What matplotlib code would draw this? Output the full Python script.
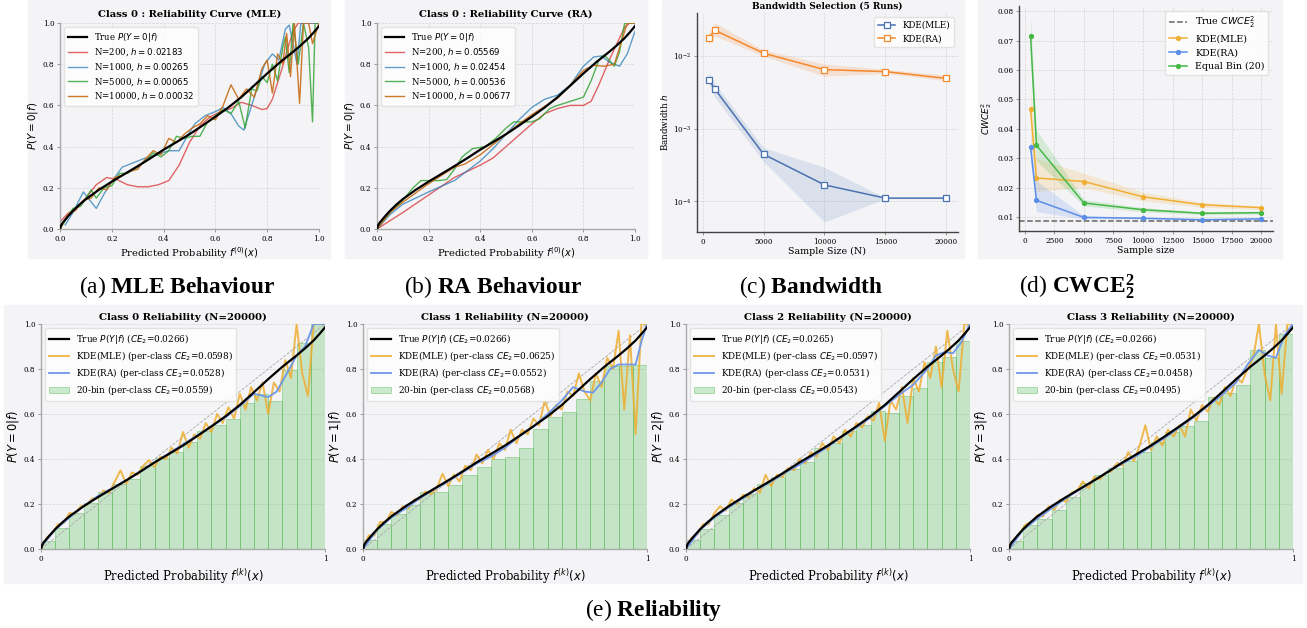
import numpy as np
import matplotlib
matplotlib.use("Agg")
import matplotlib.pyplot as plt
from matplotlib.patches import Rectangle

W, H = 1307, 628
BG = '#f4f4f7'

# ---------------- data ----------------
# true calibration curve (shared by the reliability panels)
true_x = [0, 0.005, 0.01, 0.02, 0.03, 0.05, 0.075, 0.1, 0.15, 0.2, 0.25, 0.3, 0.35, 0.4, 0.45,
          0.5, 0.55, 0.6, 0.65, 0.7, 0.75, 0.8, 0.85, 0.9, 0.93, 0.96, 0.98, 1.0]
true_y = [0, 0.02, 0.03, 0.045, 0.06, 0.088, 0.118, 0.145, 0.19, 0.23, 0.2675, 0.305, 0.344, 0.385, 0.422,
          0.46, 0.502, 0.545, 0.59, 0.64, 0.697, 0.755, 0.81, 0.86, 0.892, 0.927, 0.955, 0.985]

# (a) MLE bandwidth curves
a_labels = ['N=200, $h=0.02183$', 'N=1000, $h=0.00265$', 'N=5000, $h=0.00065$', 'N=10000, $h=0.00032$']
a200_x = [0, 0.03, 0.06, 0.1, 0.14, 0.18, 0.22, 0.26, 0.3, 0.34, 0.38, 0.42, 0.46, 0.5, 0.54, 0.58, 0.62,
          0.66, 0.7, 0.74, 0.78, 0.8, 0.82, 0.84, 0.86, 0.88, 0.9, 0.92, 1.0]
a200_y = [0.035, 0.075, 0.1, 0.15, 0.215, 0.25, 0.24, 0.215, 0.205, 0.205, 0.215, 0.235, 0.31, 0.42, 0.5, 0.545,
          0.57, 0.585, 0.615, 0.6, 0.58, 0.585, 0.63, 0.71, 0.79, 0.88, 0.96, 1.0, 1.0]
a1000_x = [0.02, 0.05, 0.09, 0.14, 0.17, 0.2, 0.24, 0.28, 0.32, 0.37, 0.42, 0.46, 0.5, 0.52, 0.56, 0.6, 0.63,
           0.66, 0.69, 0.71, 0.74, 0.77, 0.79, 0.82, 0.845, 0.87, 0.885, 0.9, 0.915, 0.93, 0.95, 1.0]
a1000_y = [0.02, 0.08, 0.18, 0.10, 0.17, 0.23, 0.30, 0.32, 0.34, 0.36, 0.38, 0.38, 0.47, 0.51, 0.55, 0.57, 0.59,
           0.56, 0.50, 0.48, 0.60, 0.72, 0.80, 0.85, 0.82, 0.97, 0.99, 0.90, 0.80, 1.0, 1.0, 1.0]
a5000_x = [0.0, 0.03, 0.05, 0.08, 0.1, 0.12, 0.14, 0.17, 0.2, 0.23, 0.26, 0.3, 0.33, 0.36, 0.39, 0.42, 0.45,
           0.48, 0.51, 0.54, 0.57, 0.6, 0.63, 0.66, 0.69, 0.715, 0.74, 0.76, 0.78, 0.8, 0.82, 0.84, 0.86,
           0.87, 0.885, 0.9, 0.92, 0.94, 0.96, 0.975, 0.985, 1.0]
a5000_y = [0.0, 0.06, 0.10, 0.11, 0.15, 0.19, 0.15, 0.20, 0.21, 0.27, 0.27, 0.30, 0.33, 0.37, 0.35, 0.38, 0.45,
           0.44, 0.45, 0.45, 0.52, 0.55, 0.58, 0.56, 0.62, 0.49, 0.68, 0.67, 0.74, 0.71, 0.80, 0.72, 0.88,
           0.93, 0.76, 1.0, 0.80, 1.0, 0.88, 0.52, 1.0, 1.0]
a10000_x = [0, 0.03, 0.06, 0.09, 0.12, 0.15, 0.18, 0.21, 0.24, 0.27, 0.3, 0.33, 0.36, 0.39, 0.42, 0.45, 0.48,
            0.51, 0.54, 0.57, 0.6, 0.63, 0.66, 0.69, 0.72, 0.75, 0.78, 0.8, 0.82, 0.84, 0.86, 0.875, 0.89,
            0.905, 0.925, 0.94, 0.96, 0.975, 1.0]
a10000_y = [0.0, 0.07, 0.09, 0.14, 0.15, 0.20, 0.19, 0.25, 0.26, 0.28, 0.29, 0.34, 0.38, 0.36, 0.44, 0.42, 0.46,
            0.49, 0.51, 0.55, 0.53, 0.60, 0.70, 0.63, 0.68, 0.64, 0.78, 0.82, 0.66, 0.85, 0.80, 0.95, 0.74,
            1.0, 0.61, 1.0, 1.0, 0.90, 1.0]

# (b) RA bandwidth curves
b_labels = ['N=200, $h=0.05569$', 'N=1000, $h=0.02454$', 'N=5000, $h=0.00536$', 'N=10000, $h=0.00677$']
b200_x = [0, 0.1, 0.2, 0.3, 0.4, 0.45, 0.5, 0.55, 0.6, 0.65, 0.7, 0.75, 0.8, 0.83, 0.86, 0.9, 0.93, 0.96, 0.98, 1.0]
b200_y = [0.0, 0.08, 0.165, 0.25, 0.31, 0.345, 0.40, 0.455, 0.51, 0.56, 0.585, 0.60, 0.60, 0.62, 0.70, 0.82,
          0.90, 0.98, 1.0, 1.0]
b1000_x = [0, 0.05, 0.1, 0.2, 0.3, 0.4, 0.45, 0.5, 0.55, 0.6, 0.65, 0.7, 0.75, 0.8, 0.84, 0.87, 0.9, 0.94, 0.97, 1.0]
b1000_y = [0, 0.07, 0.12, 0.18, 0.235, 0.33, 0.39, 0.46, 0.53, 0.59, 0.63, 0.65, 0.70, 0.79, 0.835, 0.84, 0.81,
           0.79, 0.85, 0.96]
b5000_x = [0, 0.05, 0.1, 0.14, 0.17, 0.2, 0.24, 0.27, 0.3, 0.33, 0.37, 0.42, 0.46, 0.5, 0.53, 0.57, 0.6, 0.63,
           0.67, 0.7, 0.75, 0.8, 0.83, 0.86, 0.88, 0.9, 0.92, 0.94, 0.96, 1.0]
b5000_y = [0, 0.08, 0.14, 0.20, 0.235, 0.235, 0.235, 0.24, 0.29, 0.35, 0.39, 0.40, 0.44, 0.49, 0.52, 0.52, 0.52,
           0.535, 0.585, 0.60, 0.62, 0.64, 0.72, 0.82, 0.845, 0.82, 0.79, 0.86, 1.0, 1.0]
b10000_x = [0, 0.05, 0.1, 0.2, 0.3, 0.34, 0.4, 0.45, 0.5, 0.55, 0.6, 0.65, 0.7, 0.75, 0.8, 0.84, 0.88, 0.92,
            0.95, 0.97, 1.0]
b10000_y = [0, 0.08, 0.13, 0.22, 0.30, 0.315, 0.36, 0.41, 0.46, 0.51, 0.555, 0.595, 0.635, 0.70, 0.77, 0.795,
            0.79, 0.80, 0.92, 1.0, 1.0]

# (c) bandwidth vs sample size
sizes = [500, 1000, 5000, 10000, 15000, 20000]
h_mle = [0.00475, 0.00352, 0.000446, 0.000169, 0.000111, 0.000111]
h_mle_lo = [0.0042, 0.0027, 0.000353, 0.000052, 0.000109, 0.000109]
h_mle_hi = [0.0059, 0.0042, 0.00055, 0.000295, 0.000113, 0.000113]
h_ra = [0.0180, 0.0227, 0.0110, 0.00653, 0.00614, 0.00495]
h_ra_lo = [0.0145, 0.0189, 0.0100, 0.0053, 0.0058, 0.0046]
h_ra_hi = [0.0215, 0.0287, 0.0122, 0.0078, 0.0066, 0.0055]

# (d) CWCE vs sample size
cwce_true = 0.00875
cw_mle = [0.0467, 0.0233, 0.0221, 0.0169, 0.0142, 0.0132]
cw_mle_lo = [0.039, 0.0187, 0.0200, 0.0155, 0.0133, 0.0126]
cw_mle_hi = [0.0544, 0.0300, 0.0249, 0.0185, 0.0150, 0.0138]
cw_ra = [0.0338, 0.0157, 0.0099, 0.0096, 0.0091, 0.0094]
cw_ra_lo = [0.029, 0.0118, 0.0094, 0.0093, 0.0088, 0.0091]
cw_ra_hi = [0.0388, 0.0223, 0.0105, 0.0099, 0.0094, 0.0097]
cw_bin = [0.0716, 0.0344, 0.0148, 0.0125, 0.0113, 0.0115]
cw_bin_lo = [0.065, 0.0291, 0.0138, 0.0118, 0.0108, 0.0110]
cw_bin_hi = [0.0783, 0.0396, 0.0160, 0.0132, 0.0118, 0.0120]

# (e) per-class reliability, N=20000
classes = [0, 1, 2, 3]
ce_true = ['0.0266', '0.0266', '0.0265', '0.0266']
ce_mle = ['0.0598', '0.0625', '0.0597', '0.0531']
ce_ra = ['0.0528', '0.0552', '0.0531', '0.0458']
ce_bin = ['0.0559', '0.0568', '0.0543', '0.0495']

bins_c0 = [0.035, 0.095, 0.16, 0.205, 0.255, 0.29, 0.31, 0.37, 0.405, 0.43, 0.475, 0.525, 0.55, 0.58,
           0.65, 0.69, 0.66, 0.795, 0.915, 1.0]
bins_c1 = [0.04, 0.11, 0.155, 0.195, 0.255, 0.255, 0.285, 0.33, 0.365, 0.4, 0.41, 0.45, 0.535, 0.585,
           0.61, 0.665, 0.745, 0.815, 0.815, 0.82]
bins_c2 = [0.04, 0.09, 0.15, 0.205, 0.245, 0.29, 0.32, 0.355, 0.385, 0.45, 0.47, 0.525, 0.55, 0.615,
           0.605, 0.68, 0.715, 0.83, 0.855, 0.925]
bins_c3 = [0.035, 0.105, 0.135, 0.175, 0.23, 0.295, 0.33, 0.36, 0.39, 0.43, 0.475, 0.52, 0.545, 0.57,
           0.675, 0.695, 0.73, 0.885, 0.85, 0.955]

mle_x = np.linspace(0, 1, 51)
mle_c0 = [0.0, 0.05, 0.07, 0.11, 0.115, 0.16, 0.155, 0.19, 0.195, 0.225, 0.225, 0.26, 0.25, 0.30, 0.35, 0.29,
          0.34, 0.33, 0.37, 0.395, 0.365, 0.41, 0.40, 0.45, 0.425, 0.52, 0.45, 0.51, 0.49, 0.56, 0.52, 0.60,
          0.56, 0.63, 0.58, 0.69, 0.62, 0.72, 0.66, 0.74, 0.60, 0.74, 0.70, 0.84, 0.76, 1.0, 0.78, 0.68,
          1.0, 1.0, 1.0]
mle_c1 = [0.0, 0.06, 0.06, 0.12, 0.12, 0.165, 0.15, 0.19, 0.18, 0.22, 0.22, 0.255, 0.245, 0.27, 0.335, 0.28,
          0.33, 0.30, 0.37, 0.35, 0.42, 0.38, 0.44, 0.40, 0.47, 0.44, 0.53, 0.47, 0.53, 0.51, 0.58, 0.55,
          0.66, 0.59, 0.64, 0.62, 0.70, 0.68, 0.78, 0.70, 0.66, 0.78, 0.72, 0.85, 0.80, 0.97, 0.62, 0.95,
          0.51, 1.0, 1.0]
mle_c2 = [0.0, 0.05, 0.065, 0.11, 0.11, 0.16, 0.19, 0.17, 0.22, 0.20, 0.24, 0.23, 0.27, 0.25, 0.33, 0.28,
          0.33, 0.32, 0.36, 0.35, 0.40, 0.38, 0.43, 0.41, 0.47, 0.44, 0.50, 0.47, 0.53, 0.50, 0.56, 0.54,
          0.59, 0.57, 0.65, 0.48, 0.66, 0.62, 0.72, 0.56, 0.76, 0.70, 0.83, 0.76, 0.90, 0.72, 0.97, 0.80,
          0.70, 1.0, 1.0]
mle_c3 = [0.0, 0.04, 0.075, 0.11, 0.12, 0.15, 0.145, 0.19, 0.175, 0.22, 0.21, 0.25, 0.26, 0.30, 0.27, 0.32,
          0.31, 0.34, 0.345, 0.38, 0.37, 0.43, 0.39, 0.46, 0.55, 0.44, 0.50, 0.46, 0.53, 0.50, 0.55, 0.50,
          0.62, 0.57, 0.64, 0.61, 0.67, 0.64, 0.72, 0.68, 0.76, 0.74, 0.80, 0.85, 1.0, 0.78, 0.66, 1.0,
          0.69, 1.0, 1.0]

ra0_x = [0, 0.05, 0.1, 0.15, 0.2, 0.25, 0.3, 0.35, 0.4, 0.45, 0.5, 0.55, 0.6, 0.65, 0.7, 0.75, 0.8, 0.83,
         0.87, 0.9, 0.93, 0.96, 1.0]
ra0_y = [0.01, 0.085, 0.14, 0.19, 0.235, 0.27, 0.305, 0.345, 0.385, 0.425, 0.465, 0.505, 0.545, 0.585, 0.635,
         0.69, 0.675, 0.70, 0.79, 0.86, 0.90, 1.0, 1.0]
ra1_x = [0, 0.05, 0.1, 0.15, 0.2, 0.25, 0.3, 0.35, 0.4, 0.45, 0.5, 0.55, 0.6, 0.65, 0.7, 0.74, 0.78, 0.81,
         0.84, 0.87, 0.9, 0.93, 0.96, 0.98, 1.0]
ra1_y = [0.0, 0.085, 0.14, 0.18, 0.225, 0.265, 0.3, 0.34, 0.38, 0.41, 0.45, 0.50, 0.545, 0.60, 0.66, 0.72,
         0.70, 0.695, 0.74, 0.80, 0.82, 0.82, 0.82, 0.92, 1.0]
ra2_x = [0, 0.05, 0.1, 0.15, 0.2, 0.25, 0.3, 0.35, 0.4, 0.45, 0.5, 0.55, 0.6, 0.65, 0.7, 0.75, 0.8, 0.85,
         0.88, 0.91, 0.94, 0.97, 1.0]
ra2_y = [0.0, 0.085, 0.14, 0.185, 0.225, 0.265, 0.3, 0.34, 0.375, 0.415, 0.455, 0.5, 0.54, 0.585, 0.635,
         0.685, 0.73, 0.80, 0.86, 0.875, 0.87, 0.92, 1.0]
ra3_x = [0, 0.05, 0.1, 0.15, 0.2, 0.25, 0.3, 0.35, 0.4, 0.45, 0.5, 0.55, 0.6, 0.65, 0.7, 0.75, 0.8, 0.84,
         0.88, 0.91, 0.94, 0.97, 1.0]
ra3_y = [0.0, 0.085, 0.135, 0.18, 0.225, 0.265, 0.305, 0.345, 0.38, 0.415, 0.455, 0.495, 0.54, 0.585, 0.635,
         0.685, 0.74, 0.82, 0.885, 0.86, 0.85, 0.95, 1.0]

# ---------------- style ----------------
plt.rcParams['font.family'] = 'serif'
plt.rcParams['font.serif'] = ['DejaVu Serif']
plt.rcParams['mathtext.fontset'] = 'dejavusans'
plt.rcParams['mathtext.rm'] = 'Liberation Serif'
plt.rcParams['mathtext.it'] = 'Liberation Serif:italic'
plt.rcParams['mathtext.bf'] = 'Liberation Serif:bold'

fig = plt.figure(figsize=(W / 100, H / 100), dpi=100)


def px_box(x0, y0, x1, y1):
    return [x0 / W, 1 - y1 / H, (x1 - x0) / W, (y1 - y0) / H]


def add_bg(x0, y0, x1, y1):
    fig.patches.append(Rectangle((x0 / W, 1 - y1 / H), (x1 - x0) / W, (y1 - y0) / H,
                                 transform=fig.transFigure, color=BG, zorder=-10))


def base_style(ax, spine_col='#aaaaaa'):
    ax.set_facecolor(BG)
    ax.grid(True, ls='--', lw=0.5, color='#c8c8c8', alpha=0.7)
    ax.set_axisbelow(True)
    for s in ['top', 'right']:
        ax.spines[s].set_visible(False)
    for s in ['left', 'bottom']:
        ax.spines[s].set_color(spine_col)
        ax.spines[s].set_linewidth(1.0)
    ax.tick_params(labelsize=5.2, length=2, width=0.6, color='#888888', pad=2)


for bx in [(28, 0, 330, 258), (345, 0, 647, 258), (662, 0, 964, 258), (978, 0, 1282, 258),
           (4, 305, 330, 583), (331, 305, 654, 583), (655, 305, 978, 583), (979, 305, 1302, 583)]:
    add_bg(*bx)

cols_ab = [(0.84, 0.15, 0.16, 0.7), (0.12, 0.47, 0.71, 0.7), (0.17, 0.63, 0.17, 0.8), (0.78, 0.42, 0.08, 0.9)]

# (a) and (b)
for box, title, curves, labels in [
        ((60, 23, 319, 229), 'Class 0 : Reliability Curve (MLE)',
         [(a200_x, a200_y), (a1000_x, a1000_y), (a5000_x, a5000_y), (a10000_x, a10000_y)], a_labels),
        ((377, 23, 635, 229), 'Class 0 : Reliability Curve (RA)',
         [(b200_x, b200_y), (b1000_x, b1000_y), (b5000_x, b5000_y), (b10000_x, b10000_y)], b_labels)]:
    ax = fig.add_axes(px_box(*box))
    base_style(ax)
    ax.plot(true_x, true_y, color='black', lw=1.6, label='True $P(Y=0|f)$', zorder=6)
    for (cx, cy), lab, c in zip(curves, labels, cols_ab):
        ax.plot(cx, cy, color=c, lw=1.0, label=lab)
    ax.set_xlim(0, 1)
    ax.set_ylim(0, 1)
    ax.set_title(title, fontsize=7.2, fontweight='bold', pad=4)
    ax.set_xlabel('Predicted Probability $f^{(0)}(x)$', fontsize=7.1, labelpad=2)
    ax.set_ylabel('$P(Y=0|f)$', fontsize=7.5, labelpad=2)
    ax.legend(loc='upper left', fontsize=6.2, framealpha=0.8, edgecolor='#dddddd',
              handlelength=2.2, borderpad=0.4, labelspacing=0.35)

# (c)
ax = fig.add_axes(px_box(697, 13, 958, 232))
base_style(ax, '#444444')
c_mle, c_ra = '#4a72b0', '#f5882a'
ax.fill_between(sizes, h_mle_lo, h_mle_hi, color=c_mle, alpha=0.15, lw=0)
ax.fill_between(sizes, h_ra_lo, h_ra_hi, color=c_ra, alpha=0.18, lw=0)
ax.plot(sizes, h_mle, color=c_mle, marker='s', mfc='white', ms=4, mew=0.9, lw=1.1, label='KDE(MLE)')
ax.plot(sizes, h_ra, color=c_ra, marker='s', mfc='white', ms=4, mew=0.9, lw=1.1, label='KDE(RA)')
ax.set_yscale('log')
ax.minorticks_off()
ax.set_xticks([0, 5000, 10000, 15000, 20000])
ax.set_title('Bandwidth Selection (5 Runs)', fontsize=6.5, fontweight='bold', pad=3)
ax.set_xlabel('Sample Size (N)', fontsize=6.8, labelpad=1)
ax.set_ylabel('Bandwidth $h$', fontsize=6.3, labelpad=2)
ax.legend(loc='upper right', fontsize=6.3, framealpha=0.8, edgecolor='#dddddd', handlelength=2)

# (d)
ax = fig.add_axes(px_box(1019, 6, 1273, 231))
base_style(ax, '#444444')
c1, c2, c3 = '#f0ae32', '#5b8ee6', '#45b845'
ax.axhline(cwce_true, color='#666666', ls='--', lw=1.1, label='True $CWCE_2^2$')
ax.fill_between(sizes, cw_mle_lo, cw_mle_hi, color=c1, alpha=0.18, lw=0)
ax.fill_between(sizes, cw_ra_lo, cw_ra_hi, color=c2, alpha=0.18, lw=0)
ax.fill_between(sizes, cw_bin_lo, cw_bin_hi, color=c3, alpha=0.18, lw=0)
ax.plot(sizes, cw_mle, color=c1, marker='o', ms=2.8, lw=1.1, label='KDE(MLE)')
ax.plot(sizes, cw_ra, color=c2, marker='o', ms=2.8, lw=1.1, label='KDE(RA)')
ax.plot(sizes, cw_bin, color=c3, marker='o', ms=2.8, lw=1.1, label='Equal Bin (20)')
ax.set_xticks(np.arange(0, 20001, 2500))
ax.set_xlabel('Sample size', fontsize=6.8, labelpad=1)
ax.set_ylabel('$CWCE_2^2$', fontsize=6.5, labelpad=2)
ax.legend(loc='upper right', fontsize=6.8, framealpha=0.8, edgecolor='#dddddd', handlelength=2)

# (e)
bins_all = [bins_c0, bins_c1, bins_c2, bins_c3]
mle_all = [mle_c0, mle_c1, mle_c2, mle_c3]
ra_all = [(ra0_x, ra0_y), (ra1_x, ra1_y), (ra2_x, ra2_y), (ra3_x, ra3_y)]
lefts = [41, 363, 686, 1009]
centers = np.arange(20) * 0.05 + 0.025
for k, left in zip(classes, lefts):
    ax = fig.add_axes(px_box(left, 324, left + 284, 549))
    base_style(ax)
    ax.plot([0, 1], [0, 1], ls='--', color='#aaaaaa', lw=0.6, zorder=2)
    ax.plot(true_x, true_y, color='black', lw=1.6, zorder=6,
            label='True $P(Y|f)$ ($CE_2$=%s)' % ce_true[k])
    ax.plot(mle_x, mle_all[k], color='#eeae30', lw=1.4, alpha=0.85, zorder=4,
            label='KDE(MLE) (per-class $CE_2$=%s)' % ce_mle[k])
    ax.plot(ra_all[k][0], ra_all[k][1], color='#6f98e8', lw=1.3, zorder=5,
            label='KDE(RA) (per-class $CE_2$=%s)' % ce_ra[k])
    ax.bar(centers, bins_all[k], width=0.05, facecolor=(0.30, 0.72, 0.30, 0.28),
           edgecolor=(0.30, 0.72, 0.30, 0.42), lw=0.7,
           label='20-bin (per-class $CE_2$=%s)' % ce_bin[k], zorder=1)
    ax.set_xlim(0, 1)
    ax.set_ylim(0, 1)
    ax.set_xticks([0, 1])
    ax.set_xticklabels(['0', '1'])
    ax.set_yticks([0, 0.2, 0.4, 0.6, 0.8, 1.0])
    ax.set_title('Class %d Reliability (N=20000)' % k, fontsize=7.3, fontweight='bold', pad=3)
    ax.set_xlabel('Predicted Probability $f^{(k)}(x)$', fontsize=8.3, labelpad=3)
    ax.set_ylabel('$P(Y=%d|f)$' % k, fontsize=8.3, labelpad=2)
    ax.legend(loc='upper left', fontsize=6.4, framealpha=0.8, edgecolor='#dddddd',
              handlelength=2.2, labelspacing=0.35)

# captions
caps = [(177, 287, r'(a) $\mathbf{MLE\ Behaviour}$'),
        (493, 287, r'(b) $\mathbf{RA\ Behaviour}$'),
        (811, 287, r'(c) $\mathbf{Bandwidth}$'),
        (1077, 287, r'(d) $\mathbf{CWCE}_{\mathbf{2}}^{\mathbf{2}}$'),
        (654, 610, r'(e) $\mathbf{Reliability}$')]
for cx, cy, txt in caps:
    fig.text(cx / W, 1 - cy / H, txt, ha='center', va='center', fontsize=16.8,
             family='Liberation Serif', math_fontfamily='custom')

fig.savefig('out.png', dpi=100, facecolor='white')
